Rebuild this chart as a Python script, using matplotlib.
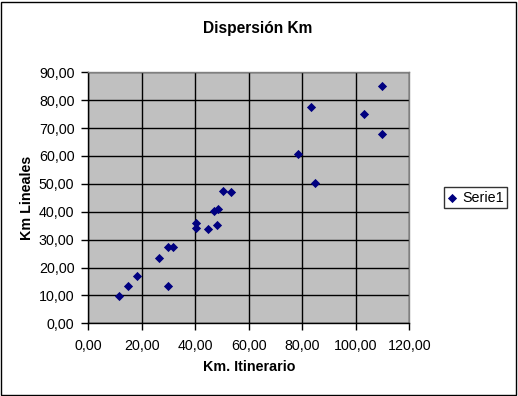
import matplotlib
matplotlib.use("Agg")
import matplotlib.pyplot as plt
from matplotlib.patches import Rectangle

km_itinerario = [11.6, 15.0, 18.3, 26.5, 29.9, 31.8, 29.9, 40.1, 40.1, 44.9, 46.9,
                 48.3, 48.2, 50.2, 53.5, 78.5, 83.4, 84.9, 103.2, 109.9, 109.9]
km_lineales = [9.7, 13.5, 16.9, 23.3, 27.2, 27.5, 13.3, 35.9, 34.3, 33.7, 40.2,
               40.9, 35.4, 47.6, 47.2, 60.6, 77.7, 50.4, 75.2, 85.2, 67.8]
x_ticks = [0, 20, 40, 60, 80, 100, 120]
y_ticks = [0, 10, 20, 30, 40, 50, 60, 70, 80, 90]
series_name = "Serie1"
title = "Dispersión Km"
x_label = "Km. Itinerario"
y_label = "Km Lineales"

plt.rcParams['font.family'] = ['Liberation Sans', 'DejaVu Sans']

W, H = 518, 396
fig = plt.figure(figsize=(W / 100, H / 100), dpi=100)
fig.patch.set_facecolor('white')

def fx(px):
    return px / W

def fy(py):
    return 1 - py / H

left, right, top, bottom = 88.3, 409.3, 72.3, 323.3
ax = fig.add_axes([fx(left), fy(bottom), fx(right) - fx(left), fy(top) - fy(bottom)])
ax.set_facecolor('#C0C0C0')
ax.set_xlim(0, 120)
ax.set_ylim(0, 90)
ax.set_xticks(x_ticks)
ax.set_yticks(y_ticks)
fmt = lambda v: f"{v:.2f}".replace('.', ',')
ax.set_xticklabels([fmt(v) for v in x_ticks], fontsize=10.3)
ax.set_yticklabels([fmt(v) for v in y_ticks], fontsize=10.3)
ax.tick_params(direction='out', length=5, width=1, color='black')
ax.tick_params(axis='x', pad=6)
ax.tick_params(axis='y', pad=5)
ax.grid(True, color='black', linewidth=1)
ax.set_axisbelow(True)
for s in ['top', 'right']:
    ax.spines[s].set_color('#808080')
    ax.spines[s].set_linewidth(1)
for s in ['left', 'bottom']:
    ax.spines[s].set_color('black')
    ax.spines[s].set_linewidth(1)

ax.scatter(km_itinerario, km_lineales, marker='D', s=22, color='#000080',
           zorder=3, label=series_name, linewidths=0)

fig.text(fx(258), fy(28.3), title, ha='center', va='center', fontsize=11.2, fontweight='bold')
fig.text(fx(248.8), fy(366.7), x_label, ha='center', va='center', fontsize=10.3, fontweight='bold')
fig.text(fx(27.3), fy(197.8), y_label, ha='center', va='center', fontsize=10.3,
         fontweight='bold', rotation=90)

leg = fig.legend(loc='center left', bbox_to_anchor=(fx(444.3), fy(197.5)),
                 fontsize=10.3, frameon=True, fancybox=False, edgecolor='black',
                 handlelength=0.6, handletextpad=0.4, borderpad=0.25, borderaxespad=0,
                 scatterpoints=1)
leg.get_frame().set_linewidth(1)

fig.patches.append(Rectangle((0.5 / W, 1.5 / H), (W - 3) / W, (H - 3) / H,
                             transform=fig.transFigure, fill=False,
                             edgecolor='black', linewidth=1))

fig.savefig('out.png', dpi=100)
